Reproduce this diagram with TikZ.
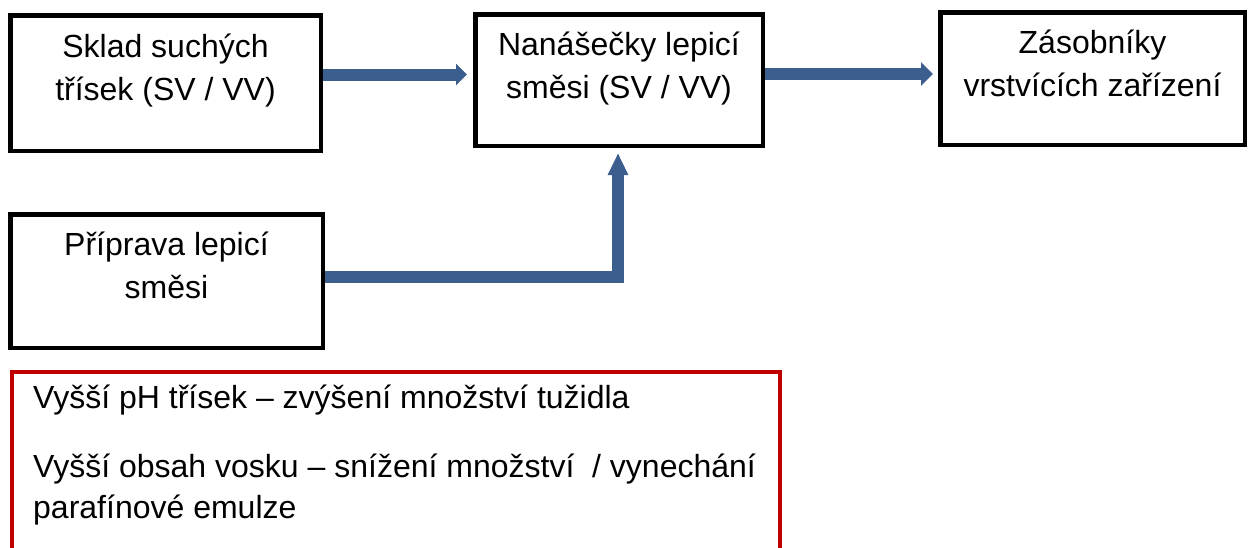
\documentclass[tikz,border=0pt]{standalone}
\usepackage{fontspec}
\setmainfont{Liberation Sans}
\usetikzlibrary{arrows.meta,calc}
\definecolor{arrowblue}{RGB}{59,94,142}
\definecolor{notered}{RGB}{192,0,0}
\tikzset{
  box/.style={draw=black, line width=4.5pt, rectangle, inner sep=0pt},
  boxtext/.style={anchor=north, inner sep=0pt, align=center,
    font=\fontsize{32pt}{43pt}\selectfont},
  fat/.style={draw=arrowblue, line width=12pt},
}
\newcommand{\fstrut}{\rule{0pt}{24pt}}
\begin{document}
\begin{tikzpicture}[x=1pt,y=-1pt]
\useasboundingbox (0,0) rectangle (1248,547);
% boxes
\node[box, minimum width=310.5pt, minimum height=135.5pt] (b1) at (165.5,83) {};
\node[box, minimum width=287.5pt, minimum height=131.5pt] (b2) at (619,80) {};
\node[box, minimum width=304.5pt, minimum height=132.5pt] (b3) at (1092.5,78.5) {};
\node[box, minimum width=312.5pt, minimum height=133.5pt] (b4) at (166.5,281) {};
% texts
\node[boxtext] (t1) at (165.5,33) {\fstrut Sklad suchých\\třísek (SV / VV)};
\node[boxtext] (t2) at (619,31) {\fstrut Nanášečky lepicí\\směsi (SV / VV)};
\node[boxtext] (t3) at (1092.5,29) {\fstrut Zásobníky\\vrstvících zařízení};
\node[boxtext] (t4) at (166.5,231) {\fstrut Příprava lepicí\\směsi};
% note box
\node[draw=notered, line width=4pt, anchor=north west, minimum width=768pt,
  minimum height=230pt, inner sep=0pt] (note) at (10,369.5) {};
\node[anchor=north west, inner sep=0pt, align=left,
  font=\fontsize{32pt}{41pt}\selectfont] (notetext) at (33,384)
  {\fstrut Vyšší pH třísek – zvýšení množství tužidla\\[28pt]
   Vyšší obsah vosku – snížení množství \ / vynechání\\
   parafínové emulze};
% arrows
\draw[fat, -{Triangle[width=21pt,length=11pt]}, shorten >=6pt]
  ([yshift=8.5pt]b1.east) -- ([yshift=8.5pt]b1.east -| b2.west);
\draw[fat, -{Triangle[width=23pt,length=12pt]}, shorten >=5pt]
  ([yshift=6pt]b2.east) -- ([yshift=6pt]b2.east -| b3.west);
\draw[fat, -{Triangle[width=19pt,length=22pt]}, shorten >=5pt]
  ([yshift=4pt]b4.east) -| ([xshift=-1pt]b2.south);
\end{tikzpicture}
\end{document}
